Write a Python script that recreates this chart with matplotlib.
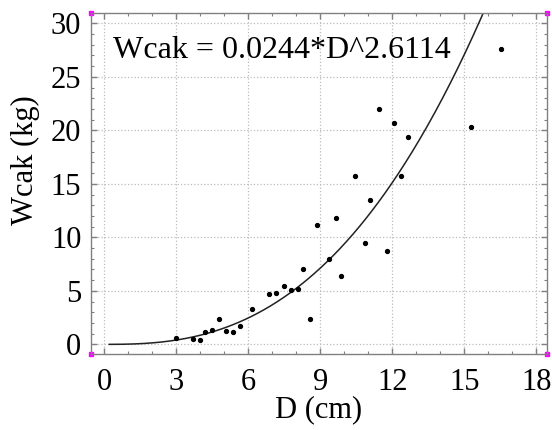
## Scatter of Wcak against D with a power-law fit curve

import numpy as np
import matplotlib.pyplot as plt
from matplotlib.ticker import MultipleLocator

## DATA
diam = [2.98, 3.67, 3.98, 4.19, 4.48, 4.78, 5.08, 5.37, 5.66, 6.16,
        6.87, 7.16, 7.48, 7.77, 8.06, 8.27, 8.58, 8.87, 9.37, 9.66,
        9.87, 10.45, 10.87, 11.06, 11.45, 11.77, 12.08, 12.37, 12.66,
        15.26, 16.53]
wcak = [0.56, 0.50, 0.37, 1.12, 1.36, 2.36, 1.21, 1.12, 1.68, 3.29,
        4.69, 4.79, 5.50, 5.07, 5.19, 7.00, 2.39, 11.19, 7.99, 11.85,
        6.37, 15.70, 9.48, 13.49, 21.98, 8.77, 20.67, 15.70, 19.37,
        20.27, 27.58]

# fit line as it is drawn in the picture
fit_a = 0.0230
fit_b = 2.6114
fit_label = 'Wcak = 0.0244*D^2.6114'

xticks = [0, 3, 6, 9, 12, 15, 18]
yticks = [0, 5, 10, 15, 20, 25, 30]

## PLOT
plt.rcParams['font.family'] = ['Liberation Serif', 'DejaVu Serif']
fig = plt.figure(figsize=(5.52, 4.30), dpi=100)
ax = fig.add_axes([0.1649, 0.176, 0.826, 0.793])

xs = np.linspace(0.2, 16.0, 300)
ax.plot(xs, fit_a * xs ** fit_b, color='#222222', lw=1.1)
ax.plot(diam, wcak, 'o', color='black', ms=2.8, ls='none')

ax.set_xlim(-0.56, 18.44)
ax.set_ylim(-0.93, 30.93)
ax.set_xticks(xticks)
ax.set_yticks(yticks)
ax.xaxis.set_minor_locator(MultipleLocator(1))
ax.yaxis.set_minor_locator(MultipleLocator(1))

ax.grid(True, which='major', ls=':', color='#bbbbbb', lw=0.9)
for s in ax.spines.values():
    s.set_color('#808080')
    s.set_linewidth(1.0)

ax.tick_params(which='both', direction='in', top=True, right=True,
               color='#808080', labelsize=22)
ax.tick_params(which='major', length=4.5, width=1.0)
ax.tick_params(which='minor', length=2.5, width=0.8)
ax.tick_params(axis='x', pad=10)
ax.tick_params(axis='y', pad=7)

ax.set_xlabel('D (cm)', fontsize=22)
ax.set_ylabel('Wcak (kg)', fontsize=22)
ax.xaxis.set_label_coords(0.5, -0.12)
ax.yaxis.set_label_coords(-0.113, 0.57)

ax.text(0.048, 0.892, fit_label, transform=ax.transAxes, fontsize=23,
        ha='left', va='center')

# small magenta corner marks
ax.plot([0, 1, 0, 1], [0, 0, 1, 1], 's', color='#ff00ff', ms=3.5,
        transform=ax.transAxes, clip_on=False)

plt.savefig('out.png', dpi=100)
